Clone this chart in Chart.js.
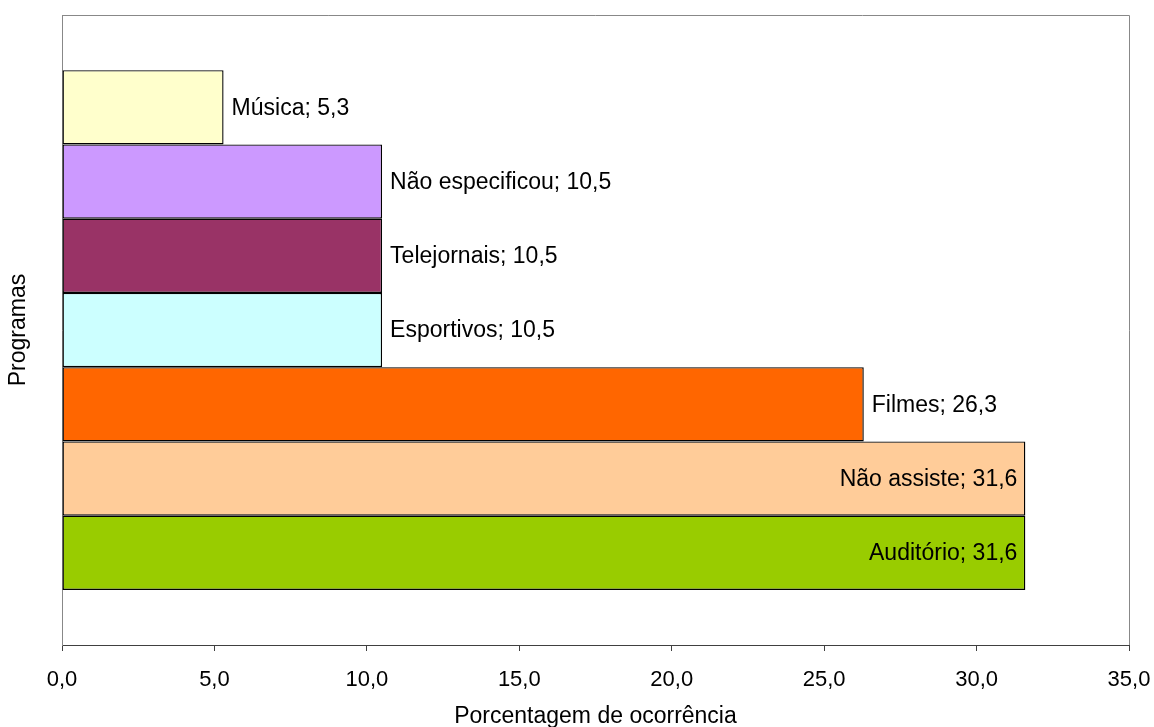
<!DOCTYPE html>
<html lang="pt">
<head>
    <meta charset="UTF-8">
    <title>Programas</title>
    <script src="https://cdn.jsdelivr.net/npm/chart.js"></script>
    <style>
        body { margin: 0; background: #fff; }
        #wrap { width: 1154px; height: 727px; position: relative; }
    </style>
</head>
<body>
    <div id="wrap"><canvas id="myChart"></canvas></div>
    <script>
        const programas = ['Música', 'Não especificou', 'Telejornais', 'Esportivos', 'Filmes', 'Não assiste', 'Auditório'];
        const porcentagens = [5.3, 10.5, 10.5, 10.5, 26.3, 31.6, 31.6];
        const cores = ['#FFFFCC', '#CC99FF', '#993366', '#CCFFFF', '#FF6600', '#FFCC99', '#99CC00'];
        const eixoMin = 0, eixoMax = 35, eixoPasso = 5;

        const fonte = "'Liberation Sans', Arial, sans-serif";
        const fmt = v => v.toFixed(1).replace('.', ',');

        Chart.defaults.color = '#000';
        Chart.defaults.font.family = fonte;
        Chart.defaults.font.size = 22;

        // "Música; 5,3" next to each bar, or inside when it would not fit
        const rotulos = {
            id: 'rotulos',
            afterDatasetsDraw(chart) {
                const ctx = chart.ctx;
                const area = chart.chartArea;
                ctx.save();
                ctx.font = '23px ' + fonte;
                ctx.fillStyle = '#000';
                ctx.textBaseline = 'middle';
                chart.data.datasets.forEach((ds, i) => {
                    const bar = chart.getDatasetMeta(i).data[0];
                    const txt = programas[i] + '; ' + fmt(porcentagens[i]);
                    const w = ctx.measureText(txt).width;
                    if (bar.x + 8 + w > area.right) {
                        ctx.textAlign = 'right';
                        ctx.fillText(txt, bar.x - 8, bar.y + 1);
                    } else {
                        ctx.textAlign = 'left';
                        ctx.fillText(txt, bar.x + 8, bar.y + 1);
                    }
                });
                ctx.restore();
            }
        };

        // grey frame on top and right of the plot area
        const moldura = {
            id: 'moldura',
            afterDraw(chart) {
                const {left, top, right, bottom} = chart.chartArea;
                const ctx = chart.ctx;
                ctx.save();
                ctx.strokeStyle = '#888';
                ctx.lineWidth = 1;
                ctx.beginPath();
                ctx.moveTo(left, top + 0.5);
                ctx.lineTo(right + 0.5, top + 0.5);
                ctx.lineTo(right + 0.5, bottom);
                ctx.stroke();
                ctx.restore();
            }
        };

        const ctx = document.getElementById('myChart').getContext('2d');
        new Chart(ctx, {
            type: 'bar',
            data: {
                labels: [''],
                datasets: programas.map((p, i) => ({
                    label: p,
                    data: [porcentagens[i]],
                    backgroundColor: cores[i],
                    borderColor: '#000',
                    borderWidth: 1.4,
                    borderSkipped: false,
                    categoryPercentage: 0.825,
                    barPercentage: 1
                }))
            },
            options: {
                indexAxis: 'y',
                responsive: true,
                maintainAspectRatio: false,
                animation: false,
                layout: { padding: { top: 15, right: 0, left: 0, bottom: 0 } },
                plugins: {
                    legend: { display: false },
                    tooltip: { enabled: false }
                },
                scales: {
                    x: {
                        min: eixoMin,
                        max: eixoMax,
                        afterFit(scale) {
                            scale.height = 82;
                            scale.paddingLeft = 0;
                            scale.paddingRight = 25;
                        },
                        ticks: {
                            stepSize: eixoPasso,
                            padding: 16,
                            callback: v => fmt(v)
                        },
                        grid: {
                            drawOnChartArea: false,
                            drawTicks: true,
                            tickLength: 6,
                            color: '#404040'
                        },
                        border: { color: '#404040', width: 1 },
                        title: {
                            display: true,
                            text: 'Porcentagem de ocorrência',
                            font: { size: 23, lineHeight: 1 },
                            padding: { top: 0, bottom: -1 }
                        }
                    },
                    y: {
                        afterFit(scale) { scale.width = 62; },
                        ticks: { display: false },
                        grid: { display: false },
                        border: { color: '#888', width: 1 },
                        title: {
                            display: true,
                            text: 'Programas',
                            font: { size: 23 },
                            padding: { top: 5, bottom: 0 }
                        }
                    }
                }
            },
            plugins: [rotulos, moldura]
        });
    </script>
</body>
</html>
